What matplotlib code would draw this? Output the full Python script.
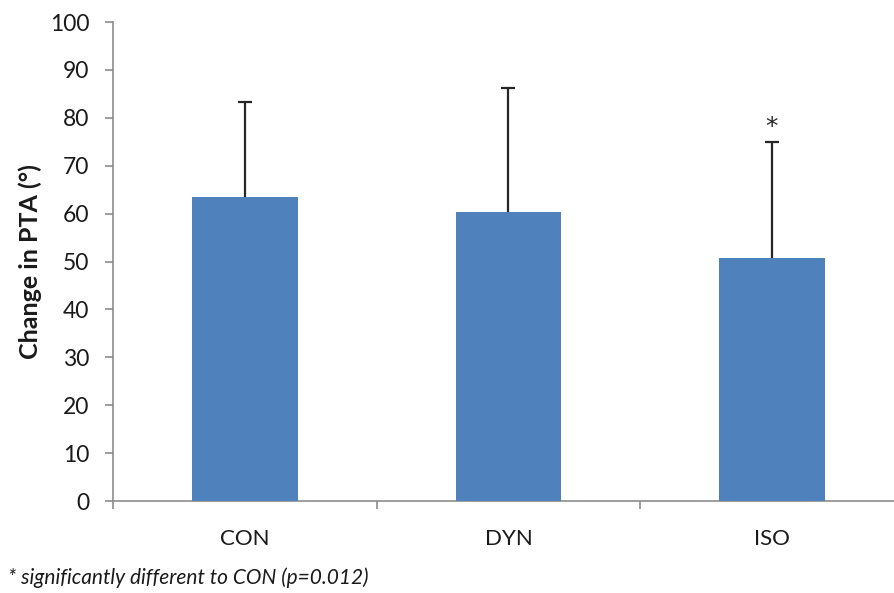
import matplotlib.pyplot as plt

# Change in PTA by group, mean with upper SD
groups = ['CON', 'DYN', 'ISO']
means = [63.4, 60.3, 50.8]
sds = [19.9, 25.9, 24.2]
footnote = '* significantly different to CON (p=0.012)'

plt.rcParams['font.family'] = ['Lato', 'DejaVu Sans']

dpi = 100
fig = plt.figure(figsize=(895 / dpi, 593 / dpi), dpi=dpi)
ax = fig.add_axes([0.1265, 0.1551, 0.8832, 0.8078])

x = list(range(len(groups)))
ax.bar(x, means, width=0.40, color='#4F81BD', zorder=3)
eb = ax.errorbar(x, means, yerr=[[0] * len(sds), sds], fmt='none',
                 ecolor='#262626', elinewidth=1.6, capsize=5, capthick=1.6, zorder=2)
# only the upper whisker gets a cap
eb[1][0].set_visible(False)

# significance marker above ISO
ax.text(2, means[2] + sds[2] + 3.0, '*', ha='center', va='center',
        fontsize=18, color='#262626', family='DejaVu Sans')

ax.set_xlim(-0.5, 2.5)
ax.set_ylim(0, 100)
ax.set_yticks(range(0, 101, 10))
ax.set_xticks(x)
ax.set_xticklabels(groups)
ax.set_xticks([-0.5, 0.5, 1.5, 2.5], minor=True)

for s in ['top', 'right']:
    ax.spines[s].set_visible(False)
for s in ['left', 'bottom']:
    ax.spines[s].set_color('#8C8C8C')
    ax.spines[s].set_linewidth(1.2)

ax.tick_params(axis='y', length=6, width=1.2, color='#8C8C8C', pad=11,
               labelsize=16.5, labelcolor='#1a1a1a')
ax.tick_params(axis='x', which='major', length=0, pad=20,
               labelsize=16, labelcolor='#1a1a1a')
ax.tick_params(axis='x', which='minor', length=6, width=1.2, color='#8C8C8C')

fig.text(30 / 895, 0.1551 + 0.8078 / 2, 'Change in PTA (°)', rotation=90,
         ha='center', va='center', fontsize=18, fontweight='bold', color='#1a1a1a')
fig.text(8 / 895, 1 - 578 / 593, footnote, ha='left', va='center',
         fontsize=15, style='italic', color='#1a1a1a')

plt.savefig('out.png', dpi=dpi)
